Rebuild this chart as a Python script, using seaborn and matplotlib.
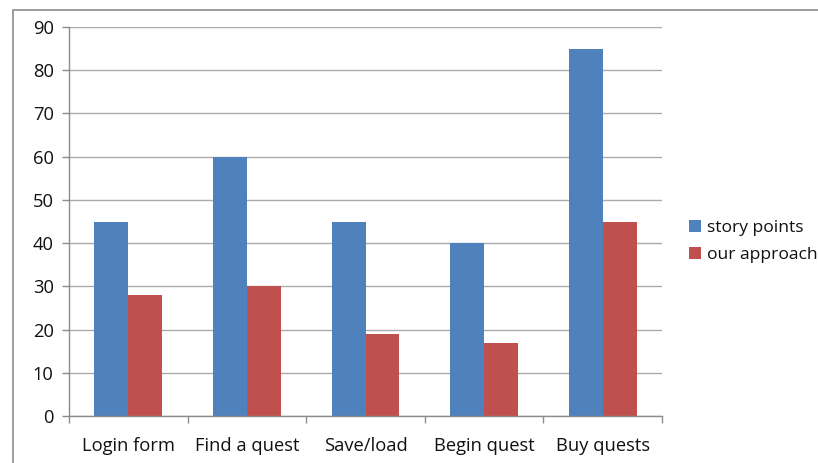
import matplotlib
matplotlib.use("Agg")
import matplotlib.pyplot as plt
from matplotlib.patches import Rectangle
from matplotlib.ticker import FixedLocator, NullFormatter
import pandas as pd
import seaborn as sns

# Effort estimates per feature
features = ["Login form", "Find a quest", "Save/load", "Begin quest", "Buy quests"]
story_points = [45, 60, 45, 40, 85]
our_approach = [28, 30, 19, 17, 45]
series_names = ["story points", "our approach"]
y_ticks = [0, 10, 20, 30, 40, 50, 60, 70, 80, 90]

df = pd.DataFrame({
    "feature": features * 2,
    "value": story_points + our_approach,
    "method": [series_names[0]] * len(features) + [series_names[1]] * len(features),
})

sns.set_theme(style="white")
plt.rcParams["font.family"] = ["Open Sans", "DejaVu Sans"]

fig = plt.figure(figsize=(8.18, 4.63), dpi=100)
ax = fig.add_axes([69 / 818, 1 - 416 / 463, (662 - 69) / 818, (416 - 27) / 463])

palette = {"story points": "#4F81BD", "our approach": "#C0504D"}
sns.barplot(data=df, x="feature", y="value", hue="method", palette=palette,
            width=0.57, saturation=1, linewidth=0, ax=ax, legend=True)

grey = "#8C8C8C"
text_color = "#111111"
fs = 13.2
ax.set_ylim(0, 90)
ax.set_xlim(-0.5, len(features) - 0.5)
ax.set_yticks(y_ticks)
ax.yaxis.grid(True, color="#ABABAB", linewidth=1.0)
ax.set_axisbelow(True)
ax.set_xlabel("")
ax.set_ylabel("")

for side in ("top", "right"):
    ax.spines[side].set_visible(False)
for side in ("left", "bottom"):
    ax.spines[side].set_color(grey)
    ax.spines[side].set_linewidth(1.0)

ax.tick_params(axis="y", which="major", length=5, width=1, color=grey,
               direction="out", pad=6, labelsize=fs, labelcolor=text_color, left=True)
ax.tick_params(axis="x", which="major", length=0, pad=15, labelsize=fs,
               labelcolor=text_color)
ax.xaxis.set_minor_locator(FixedLocator([i - 0.5 for i in range(len(features) + 1)]))
ax.xaxis.set_minor_formatter(NullFormatter())
ax.tick_params(axis="x", which="minor", length=5, width=1, color=grey,
               direction="out", bottom=True)

handles, labels = ax.get_legend_handles_labels()
leg = ax.legend(handles, labels, loc="upper left", bbox_to_anchor=(682 / 818, 1 - 213 / 463),
                bbox_transform=fig.transFigure, frameon=False, fontsize=12.6,
                handlelength=0.7, handleheight=0.7, handletextpad=0.35,
                labelspacing=0.6, borderaxespad=0)
for t in leg.get_texts():
    t.set_color(text_color)

# Chart frame
fig.patches.append(Rectangle((13 / 818, -0.05), 1.1, 1.05 - 10.5 / 463,
                             transform=fig.transFigure, fill=False,
                             edgecolor="#8C8C8C", linewidth=1.2, zorder=0))

fig.savefig("out.png", dpi=100)
